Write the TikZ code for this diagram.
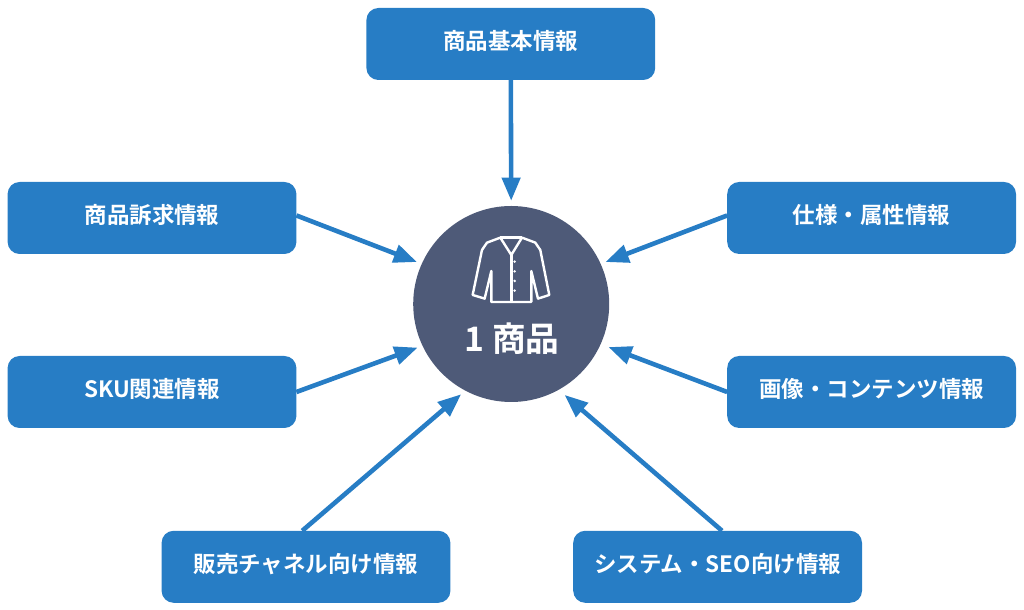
\documentclass[tikz,border=0pt]{standalone}
\usepackage{fontspec}
\usepackage{tikz}
\usetikzlibrary{arrows.meta}
\setmainfont{Noto Sans CJK JP}[BoldFont={Noto Sans CJK JP Bold}]
\definecolor{boxblue}{RGB}{39,125,197}
\definecolor{hubslate}{RGB}{78,90,120}
\tikzset{
    infobox/.style={fill=boxblue,rounded corners=0.3cm,minimum width=7.22cm,minimum height=1.8cm,
        inner sep=0pt,outer sep=0pt,text=white,text height=0.5cm,text depth=0.2cm,
        font=\fontsize{16pt}{18pt}\selectfont\bfseries},
    hubnode/.style={circle,fill=hubslate,minimum size=4.9cm,inner sep=0pt,outer sep=0.13cm},
    feedarrow/.style={draw=boxblue,line width=0.115cm,-{Triangle[length=0.58cm,width=0.45cm]}},
    jacketline/.style={draw=white,line width=0.06cm,line join=round}
}

\begin{document}
\begin{tikzpicture}
    \useasboundingbox (0,0) rectangle (25.6,15.25);

    \node[hubnode] (hub) at (12.78,7.65) {};
    \node[text=white,font=\fontsize{24pt}{28pt}\selectfont\bfseries] (hublabel) at (12.8,6.78) {1 商品};

    \node[infobox] (basic) at (12.77,14.15) {商品基本情報};
    \node[infobox] (appeal) at (3.8,9.8) {商品訴求情報};
    \node[infobox] (sku) at (3.8,5.45) {SKU関連情報};
    \node[infobox] (sales) at (7.65,1.08) {販売チャネル向け情報};
    \node[infobox] (spec) at (21.79,9.8) {仕様・属性情報};
    \node[infobox] (image) at (21.79,5.45) {画像・コンテンツ情報};
    \node[infobox] (system) at (17.94,1.08) {システム・SEO向け情報};

    \draw[feedarrow] (basic.south) -- (hub.north);
    \draw[feedarrow] (appeal.1) -- (hub.156);
    \draw[feedarrow] (sku.east) -- (hub.205);
    \draw[feedarrow] (sales.96) -- (hub.241);
    \draw[feedarrow] (spec.179) -- (hub.24);
    \draw[feedarrow,shorten >=0.08cm] (image.west) -- (hub.336);
    \draw[feedarrow,shorten >=0.06cm] (system.83) -- (hub.300.5);

    % jacket icon
    \begin{scope}[shift={(10.3,10.25)},x=0.008333cm,y=-0.008333cm]
        \draw[jacketline] (265,113) -- (225,128) -- (210,150) -- (182,285) -- (218,296) -- (238,213)
            -- (238,306) -- (358,306) -- (358,213) -- (378,296) -- (412,285) -- (385,150)
            -- (370,128) -- (330,113) -- (298,165) -- cycle;
        \draw[jacketline] (265,113) -- (330,113);
        \draw[jacketline] (298,165) -- (298,306);
        \foreach \y in {185,214,243,272}
            \fill[white] (308,\y) circle (0.035cm);
    \end{scope}
\end{tikzpicture}
\end{document}
